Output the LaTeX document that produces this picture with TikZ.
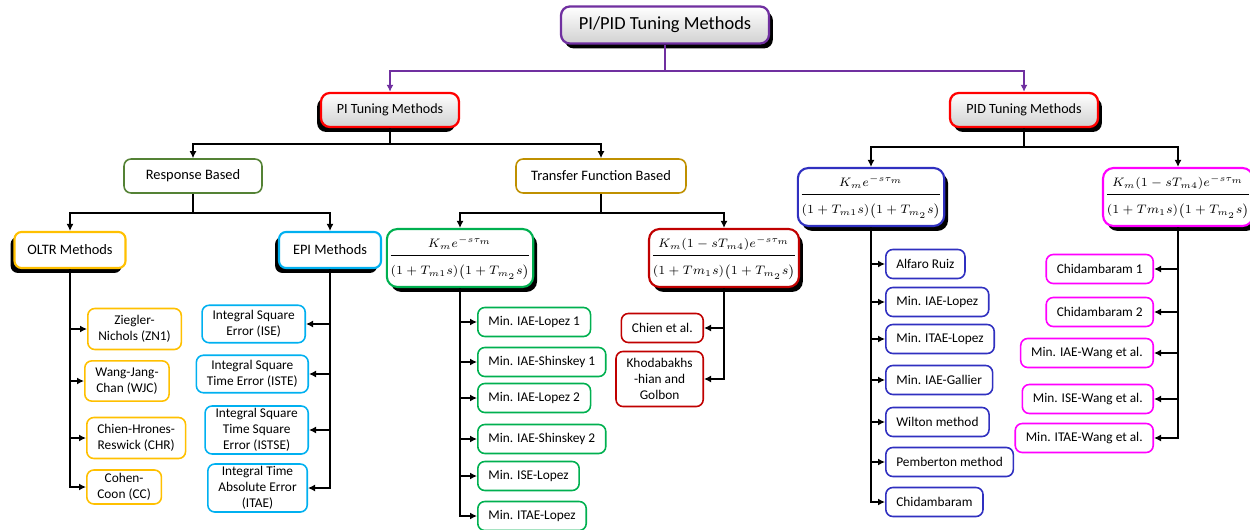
\documentclass[tikz,border=0pt]{standalone}
\usepackage{amsmath}
\usepackage{fontspec}
\setmainfont{Carlito}
\usepackage{tikz}
\usetikzlibrary{arrows.meta, positioning, shadows, calc}
\definecolor{dpurple}{RGB}{112,48,160}
\definecolor{olivegrn}{RGB}{84,130,53}
\definecolor{darkgold}{RGB}{191,144,0}
\definecolor{amber}{RGB}{255,192,0}
\definecolor{skyblue}{RGB}{0,176,240}
\definecolor{brgreen}{RGB}{0,176,80}
\definecolor{darkred}{RGB}{192,0,0}
\definecolor{royal}{RGB}{48,48,192}
\definecolor{pinkmag}{RGB}{255,0,255}
\newcommand{\numgap}{\rule[-3pt]{0pt}{3pt}}
\newcommand{\dengap}{\rule{0pt}{10pt}}
\tikzset{
    basebox/.style={rectangle, rounded corners=4pt, fill=white, align=center, line width=0.9pt},
    leafbox/.style={basebox, inner xsep=6pt, inner ysep=4pt, minimum height=0.58cm, font=\fontsize{7.6}{9}\selectfont},
    midbox/.style={basebox, minimum height=0.68cm, font=\fontsize{8.2}{10}\selectfont},
    tfbox/.style={basebox, rounded corners=6pt, line width=1.2pt, inner xsep=1pt, inner ysep=1pt, minimum height=1.16cm, font=\fontsize{7}{9}\selectfont},
    headbox/.style={basebox, rounded corners=5pt, line width=1.3pt, top color=white, bottom color=black!18, minimum height=0.68cm},
    shadowR/.style={drop shadow={shadow xshift=2.2pt, shadow yshift=-2.8pt, opacity=1, fill=black}},
    shadowL/.style={drop shadow={shadow xshift=-2.2pt, shadow yshift=-2.8pt, opacity=1, fill=black}},
    arrow/.style={-{Latex[length=1.4mm, width=1.4mm]}, line width=1.1pt, black},
    link/.style={line width=1.1pt, black},
}
\begin{document}
\begin{tikzpicture}[x=0.02cm, y=-0.02cm]
\useasboundingbox (0,0) rectangle (1250,530);

% Root and the two families
\node[headbox, shadowR, draw=dpurple, minimum width=4.16cm, minimum height=0.74cm, font=\fontsize{10.5}{12}\selectfont] (root) at (665,25) {PI/PID Tuning Methods};
\node[headbox, shadowL, draw=red, minimum width=2.76cm, font=\fontsize{8}{10}\selectfont] (pi) at (390,110) {PI Tuning Methods};
\node[headbox, shadowR, draw=red, minimum width=2.96cm, font=\fontsize{8}{10}\selectfont] (pid) at (1024,110) {PID Tuning Methods};

% PI: second level
\node[midbox, draw=olivegrn, minimum width=2.76cm] (resp) at (193,176) {Response Based};
\node[midbox, draw=darkgold, minimum width=3.4cm] (tfb) at (601,176) {Transfer Function Based};

\node[midbox, shadowL, draw=amber, line width=1.2pt, minimum width=2.22cm, minimum height=0.72cm] (oltr) at (70,250) {OLTR Methods};
\node[midbox, shadowL, draw=skyblue, line width=1.2pt, minimum width=2.04cm, minimum height=0.72cm] (epi) at (330,250) {EPI Methods};

\node[tfbox, shadowR, draw=brgreen, minimum width=2.7cm] (tfa) at (460,258) {$\dfrac{K_m e^{-s\tau_m}\numgap}{\dengap(1+T_{m1}s)\bigl(1+T_{m_2}s\bigr)}$};
\node[tfbox, shadowR, draw=darkred, minimum width=2.66cm] (tfc) at (724,258) {$\dfrac{K_m(1-sT_{m4})e^{-s\tau_m}\numgap}{\dengap(1+Tm_1s)\bigl(1+T_{m_2}s\bigr)}$};

% PID: second level
\node[tfbox, shadowR, draw=royal, minimum width=2.78cm] (tfd) at (871,197) {$\dfrac{K_m e^{-s\tau_m}\numgap}{\dengap(1+T_{m1}s)\bigl(1+T_{m_2}s\bigr)}$};
\node[tfbox, shadowR, draw=pinkmag, minimum width=2.7cm] (tfe) at (1178,197) {$\dfrac{K_m(1-sT_{m4})e^{-s\tau_m}\numgap}{\dengap(1+Tm_1s)\bigl(1+T_{m_2}s\bigr)}$};

% OLTR leaves
\node[leafbox, draw=amber, anchor=west] (zn) at (87,329) {Ziegler-\\Nichols (ZN1)};
\node[leafbox, draw=amber, anchor=west] (wjc) at (84,381) {Wang-Jang-\\Chan (WJC)};
\node[leafbox, draw=amber, anchor=west] (chr) at (86,438) {Chien-Hrones-\\Reswick (CHR)};
\node[leafbox, draw=amber, anchor=west, inner ysep=2pt] (cc) at (86,487) {Cohen-\\Coon (CC)};

% EPI leaves
\node[leafbox, draw=skyblue, anchor=east, inner ysep=3pt] (ise) at (306,324) {Integral Square\\Error (ISE)};
\node[leafbox, draw=skyblue, anchor=east, inner ysep=3pt] (iste) at (309,374) {Integral Square\\Time Error (ISTE)};
\node[leafbox, draw=skyblue, anchor=east, inner ysep=1.5pt] (istse) at (309,430) {Integral Square\\Time Square\\Error (ISTSE)};
\node[leafbox, draw=skyblue, anchor=east, inner ysep=1.5pt] (itae) at (308,488) {Integral Time\\Absolute Error\\(ITAE)};

% first order model leaves
\node[leafbox, draw=brgreen, anchor=west] (lop1) at (477,322) {Min. IAE-Lopez 1};
\node[leafbox, draw=brgreen, anchor=west] (shk1) at (477,362) {Min. IAE-Shinskey 1};
\node[leafbox, draw=brgreen, anchor=west] (lop2) at (477,398) {Min. IAE-Lopez 2};
\node[leafbox, draw=brgreen, anchor=west] (shk2) at (477,439) {Min. IAE-Shinskey 2};
\node[leafbox, draw=brgreen, anchor=west] (iselop) at (477,476) {Min. ISE-Lopez};
\node[leafbox, draw=brgreen, anchor=west] (itaelop) at (477,516) {Min. ITAE-Lopez};

% lead model leaves
\node[leafbox, draw=darkred, anchor=east] (chien) at (704,328) {Chien et al.};
\node[leafbox, draw=darkred, anchor=east] (khod) at (704,379) {Khodabakhs\\-hian and\\Golbon};

% PID leaves, left
\node[leafbox, draw=royal, anchor=west] (alf) at (885,264) {Alfaro Ruiz};
\node[leafbox, draw=royal, anchor=west] (pdlop) at (885,302) {Min. IAE-Lopez};
\node[leafbox, draw=royal, anchor=west] (pditae) at (885,339) {Min. ITAE-Lopez};
\node[leafbox, draw=royal, anchor=west] (gal) at (885,380) {Min. IAE-Gallier};
\node[leafbox, draw=royal, anchor=west] (wil) at (885,422) {Wilton method};
\node[leafbox, draw=royal, anchor=west] (pem) at (885,462) {Pemberton method};
\node[leafbox, draw=royal, anchor=west] (chid) at (885,502) {Chidambaram};

% PID leaves, right
\node[leafbox, draw=pinkmag, anchor=east] (chid1) at (1154,269) {Chidambaram 1};
\node[leafbox, draw=pinkmag, anchor=east] (chid2) at (1154,312) {Chidambaram 2};
\node[leafbox, draw=pinkmag, anchor=east] (wang1) at (1154,353) {Min. IAE-Wang et al.};
\node[leafbox, draw=pinkmag, anchor=east] (wang2) at (1154,399) {Min. ISE-Wang et al.};
\node[leafbox, draw=pinkmag, anchor=east] (wang3) at (1154,438) {Min. ITAE-Wang et al.};

% Connectors: tree levels
\draw[link, dpurple, line width=1pt] (root.south) -- ++(0,26) coordinate (rsplit);
\draw[arrow, dpurple, line width=1pt] (rsplit) -| (pi.north);
\draw[arrow, dpurple, line width=1pt] (rsplit) -| (pid.north);

\draw[link] (pi.south) -- ++(0,16) coordinate (pisplit);
\draw[arrow] (pisplit) -| (resp.north);
\draw[arrow] (pisplit) -| (tfb.north);

\draw[link] (pid.south) -- ++(0,19) coordinate (pidsplit);
\draw[arrow] (pidsplit) -| (tfd.north);
\draw[arrow] (pidsplit) -| (tfe.north);

\draw[link] (resp.south) -- ++(0,19) coordinate (rspsplit);
\draw[arrow] (rspsplit) -| (oltr.north);
\draw[arrow] (rspsplit) -| (epi.north);

\draw[link] (tfb.south) -- ++(0,19) coordinate (tfsplit);
\draw[arrow] (tfsplit) -| (tfa.north);
\draw[arrow] (tfsplit) -| (tfc.north);

% Connectors: trunks to the leaves
\draw[arrow] (oltr.south) |- (cc.west);
\draw[arrow] (oltr.south |- zn.west) -- (zn.west);
\draw[arrow] (oltr.south |- wjc.west) -- (wjc.west);
\draw[arrow] (oltr.south |- chr.west) -- (chr.west);

\draw[arrow] (epi.south) |- (itae.east);
\draw[arrow] (epi.south |- ise.east) -- (ise.east);
\draw[arrow] (epi.south |- iste.east) -- (iste.east);
\draw[arrow] (epi.south |- istse.east) -- (istse.east);

\draw[arrow] (tfa.south) |- (itaelop.west);
\draw[arrow] (tfa.south |- lop1.west) -- (lop1.west);
\draw[arrow] (tfa.south |- shk1.west) -- (shk1.west);
\draw[arrow] (tfa.south |- lop2.west) -- (lop2.west);
\draw[arrow] (tfa.south |- shk2.west) -- (shk2.west);
\draw[arrow] (tfa.south |- iselop.west) -- (iselop.west);

\draw[arrow] (tfc.south) |- (khod.east);
\draw[arrow] (tfc.south |- chien.east) -- (chien.east);

\draw[arrow] (tfd.south) |- (chid.west);
\draw[arrow] (tfd.south |- alf.west) -- (alf.west);
\draw[arrow] (tfd.south |- pdlop.west) -- (pdlop.west);
\draw[arrow] (tfd.south |- pditae.west) -- (pditae.west);
\draw[arrow] (tfd.south |- gal.west) -- (gal.west);
\draw[arrow] (tfd.south |- wil.west) -- (wil.west);
\draw[arrow] (tfd.south |- pem.west) -- (pem.west);

\draw[arrow] (tfe.south) |- (wang3.east);
\draw[arrow] (tfe.south |- chid1.east) -- (chid1.east);
\draw[arrow] (tfe.south |- chid2.east) -- (chid2.east);
\draw[arrow] (tfe.south |- wang1.east) -- (wang1.east);
\draw[arrow] (tfe.south |- wang2.east) -- (wang2.east);

\end{tikzpicture}
\end{document}
